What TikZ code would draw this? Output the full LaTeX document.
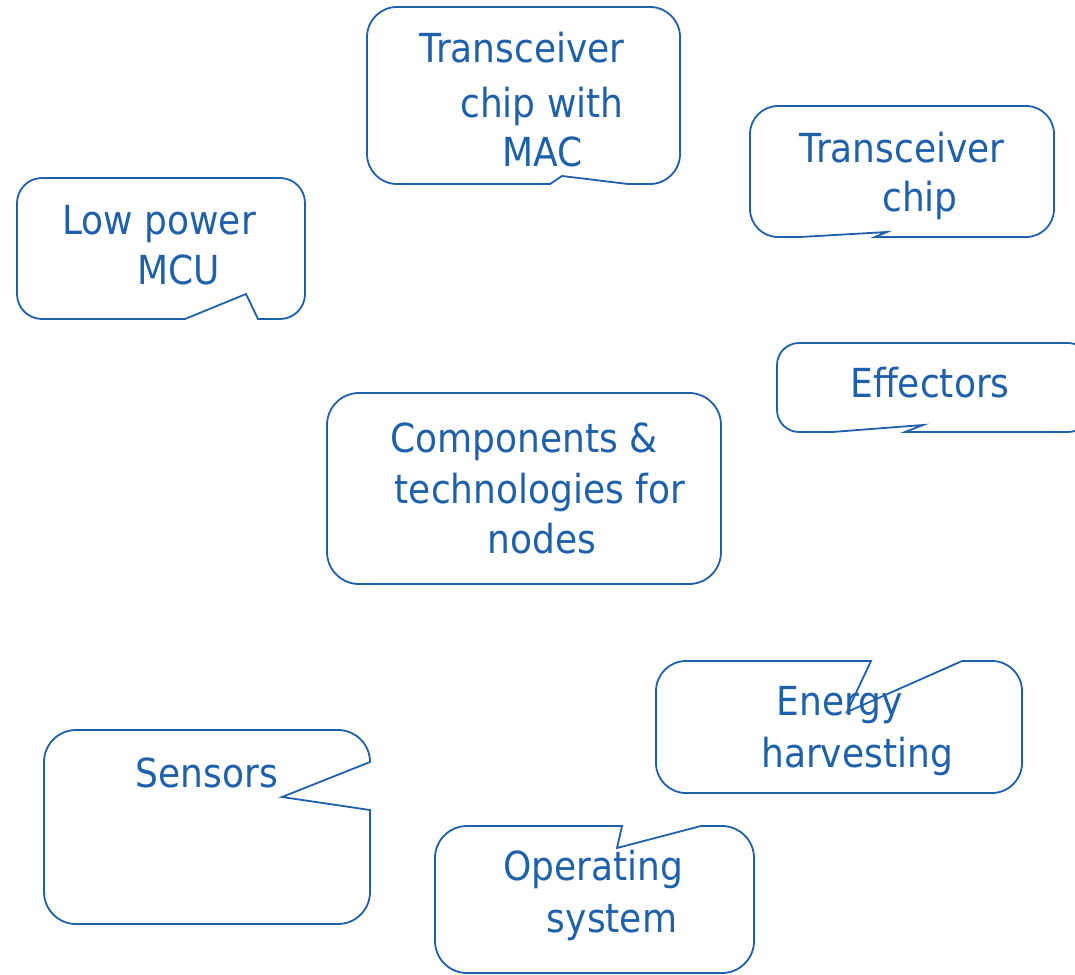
\documentclass[tikz,border=0pt]{standalone}
\usepackage{fontspec}
\setmainfont{DejaVu Sans}[FakeStretch=0.9]
\definecolor{cblue}{RGB}{30,96,170}
\begin{document}
\begin{tikzpicture}[x=1pt,y=-1pt,
  callout/.style={draw=cblue,line width=1.8pt,line join=miter},
  lbl/.style={text=cblue,anchor=base,inner sep=0pt,font=\fontsize{40}{48}\selectfont}]
\useasboundingbox (0,0) rectangle (1075,974);
\clip (0,0) rectangle (1075,974);
% Low power MCU
\draw[callout] (42,178) -- (280,178) arc[start angle=270,end angle=360,radius=25] -- (305,294)
  arc[start angle=0,end angle=90,radius=25] -- (258,319) -- (246,294) -- (185,319) -- (42,319)
  arc[start angle=90,end angle=180,radius=25] -- (17,203) arc[start angle=180,end angle=270,radius=25] -- cycle;
% Transceiver chip with MAC
\draw[callout] (397,7) -- (650,7) arc[start angle=270,end angle=360,radius=30] -- (680,154)
  arc[start angle=0,end angle=90,radius=30] -- (628,184) -- (562,176) -- (550,184) -- (397,184)
  arc[start angle=90,end angle=180,radius=30] -- (367,37) arc[start angle=180,end angle=270,radius=30] -- cycle;
% Transceiver chip
\draw[callout] (778,106) -- (1026,106) arc[start angle=270,end angle=360,radius=28] -- (1054,209)
  arc[start angle=0,end angle=90,radius=28] -- (875,237) -- (887,232) -- (800,237) -- (778,237)
  arc[start angle=90,end angle=180,radius=28] -- (750,134) arc[start angle=180,end angle=270,radius=28] -- cycle;
% Effectors
\draw[callout] (799,343) -- (1068,343) arc[start angle=270,end angle=360,radius=22] -- (1090,410)
  arc[start angle=0,end angle=90,radius=22] -- (905,432) -- (923,425) -- (832,432) -- (799,432)
  arc[start angle=90,end angle=180,radius=22] -- (777,365) arc[start angle=180,end angle=270,radius=22] -- cycle;
% Components
\draw[callout] (359,393) -- (689,393) arc[start angle=270,end angle=360,radius=32] -- (721,552)
  arc[start angle=0,end angle=90,radius=32] -- (359,584)
  arc[start angle=90,end angle=180,radius=32] -- (327,425) arc[start angle=180,end angle=270,radius=32] -- cycle;
% Energy harvesting
\draw[callout] (686,661) -- (871,661) -- (847,712) -- (962,661) -- (992,661)
  arc[start angle=270,end angle=360,radius=30] -- (1022,763)
  arc[start angle=0,end angle=90,radius=30] -- (686,793)
  arc[start angle=90,end angle=180,radius=30] -- (656,691) arc[start angle=180,end angle=270,radius=30] -- cycle;
% Sensors
\draw[callout] (76,730) -- (338,730) arc[start angle=270,end angle=360,radius=32] -- (282,797) -- (370,810) -- (370,892)
  arc[start angle=0,end angle=90,radius=32] -- (76,924)
  arc[start angle=90,end angle=180,radius=32] -- (44,762) arc[start angle=180,end angle=270,radius=32] -- cycle;
% Operating system
\draw[callout] (467,826) -- (622,826) -- (617,848) -- (701,826) -- (722,826)
  arc[start angle=270,end angle=360,radius=32] -- (754,941)
  arc[start angle=0,end angle=90,radius=32] -- (467,973)
  arc[start angle=90,end angle=180,radius=32] -- (435,858) arc[start angle=180,end angle=270,radius=32] -- cycle;
% texts
\node[lbl] (mcu1) at (159,234) {Low power};
\node[lbl] (mcu2) at (179,284) {MCU};
\node[lbl] (mac1) at (522,63) {Transceiver};
\node[lbl] (mac2) at (542,117) {chip with};
\node[lbl] (mac3) at (543,166) {MAC};
\node[lbl] (tx1) at (902,162) {Transceiver};
\node[lbl] (tx2) at (920,211) {chip};
\node[lbl] (eff) at (930,397) {Effectors};
\node[lbl] (comp1) at (524,452) {Components \&};
\node[lbl] (comp2) at (540,503) {technologies for};
\node[lbl] (comp3) at (542,553) {nodes};
\node[lbl] (en1) at (840,715) {Energy};
\node[lbl] (en2) at (857,767) {harvesting};
\node[lbl] (sens) at (207,787) {Sensors};
\node[lbl] (os1) at (593,880) {Operating};
\node[lbl] (os2) at (612,932) {system};
\end{tikzpicture}
\end{document}
